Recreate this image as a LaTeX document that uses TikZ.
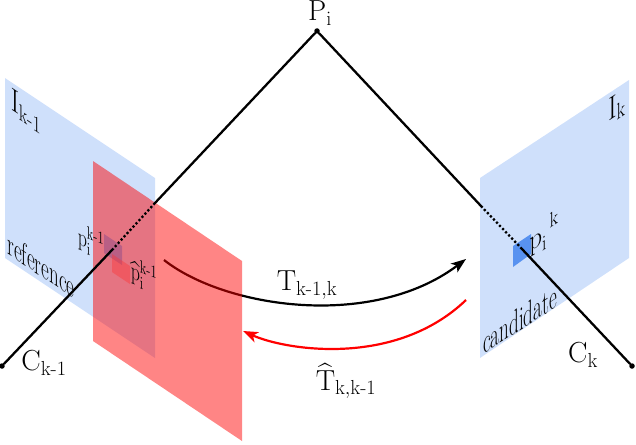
\RequirePackage{fix-cm}
\documentclass[tikz,border=0pt]{standalone}
\usepackage{amsmath}
\usetikzlibrary{arrows.meta}
\definecolor{planeblue}{RGB}{207,224,251}
\definecolor{patchblue}{RGB}{88,146,240}
\definecolor{patchpale}{RGB}{121,183,255}
\definecolor{patchred}{RGB}{255,50,50}
\tikzset{
 ray/.style={line width=2.3pt,black,line cap=round},
 raydot/.style={line width=2.3pt,black,dash pattern=on 2.2pt off 2.2pt},
 motion/.style={line width=2.2pt,-{Stealth[length=15pt,width=11pt,inset=4pt]}},
 campt/.style={circle,fill=black,inner sep=0pt,minimum size=5.5pt},
 lab/.style={inner sep=0pt,font=\fontsize{29}{33}\selectfont},
 tilted/.style={inner sep=0pt,font=\fontsize{19}{23}\selectfont,transform shape},
}
\begin{document}
\begin{tikzpicture}[x=1pt,y=-1pt]
\useasboundingbox (0,0) rectangle (636,444);
% image planes
\fill[planeblue] (5,78) -- (155,178) -- (155,358) -- (5,258) -- cycle;
\fill[planeblue] (480,178) -- (629,80) -- (629,258) -- (480,358) -- cycle;
% patches on the blue planes
\fill[patchpale] (104,234) -- (122,246) -- (122,265) -- (104,253) -- cycle;
\fill[patchblue] (513,246) -- (531,234) -- (531,254) -- (513,267) -- cycle;
% named points
\node[campt] (P) at (317,31) {};
\node[campt] (L) at (2,366) {};
\node[campt] (R) at (632,366) {};
\coordinate (la) at (155,203);
\coordinate (lb) at (112,250);
\coordinate (ra) at (481,206);
\coordinate (rb) at (522,249);
\coordinate (ms) at (164,260);
\coordinate (me) at (466,259);
\coordinate (ns) at (466,300);
\coordinate (ne) at (243,331);
% motion behind the red plane
\draw[motion] (ms) .. controls (225,308) and (372,330) .. (me);
% red plane
\fill[red,opacity=.48] (93,161) -- (242,261) -- (242,441) -- (93,341) -- cycle;
\fill[patchred,opacity=.4] (112,254) -- (130,266) -- (130,284) -- (112,272) -- cycle;
\draw[motion,red] (ns) .. controls (395,368) and (285,350) .. (ne);
% rays
\draw[ray] (P) -- (la);
\draw[raydot] (la) -- (lb);
\draw[ray] (lb) -- (L);
\draw[ray] (P) -- (ra);
\draw[raydot] (ra) -- (rb);
\draw[ray] (rb) -- (R);
% upright labels
\node[lab] (tP) at (320,13) {$\mathrm{P_i}$};
\node[lab] (tCl) at (44,363) {$\mathrm{C}_{\mathrm{k\text{-}1}}$};
\node[lab] (tCr) at (583,355) {$\mathrm{C_k}$};
\node[lab] (tT) at (307,285) {$\mathrm{T}_{\mathrm{k\text{-}1,k}}$};
\node[lab] (tH) at (346,381) {$\widehat{\mathrm{T}}_{\mathrm{k,k\text{-}1}}$};
% labels in the left plane
\begin{scope}[shift={(26,111)},yslant=-.67,yscale=1.3]
\node[tilted,font=\fontsize{25}{29}\selectfont] (tIl) at (0,0) {$\mathrm{I}_{\mathrm{k\text{-}1}}$};
\end{scope}
\begin{scope}[shift={(41,265)},yslant=-.67,yscale=1.7]
\node[tilted] (tRef) at (0,0) {reference};
\end{scope}
\begin{scope}[shift={(91,242)},yslant=-.4,yscale=1.4]
\node[tilted,font=\fontsize{18}{22}\selectfont] (tpl) at (0,0) {$\mathrm{p}_{\mathrm{i}}^{\mathrm{k\text{-}1}}$};
\end{scope}
\begin{scope}[shift={(144,276)},yslant=-.4,yscale=1.4]
\node[tilted,font=\fontsize{18}{22}\selectfont] (tphat) at (0,0) {$\widehat{\mathrm{p}}_{\mathrm{i}}^{\mathrm{k\text{-}1}}$};
\end{scope}
% labels in the right plane
\begin{scope}[shift={(617,107)},yslant=.66,yscale=1.3]
\node[tilted,font=\fontsize{25}{29}\selectfont] (tIr) at (0,0) {$\mathrm{I}_{\mathrm{k}}$};
\end{scope}
\begin{scope}[shift={(520,319)},yslant=.65,yscale=1.8]
\node[tilted] (tCand) at (0,0) {candidate};
\end{scope}
\begin{scope}[shift={(544,234)},yslant=.66,yscale=1.2]
\node[tilted,font=\fontsize{25}{29}\selectfont] (tpr) at (0,0) {$\mathrm{p}_{\mathrm{i}}^{\ \mathrm{k}}$};
\end{scope}
\end{tikzpicture}
\end{document}
